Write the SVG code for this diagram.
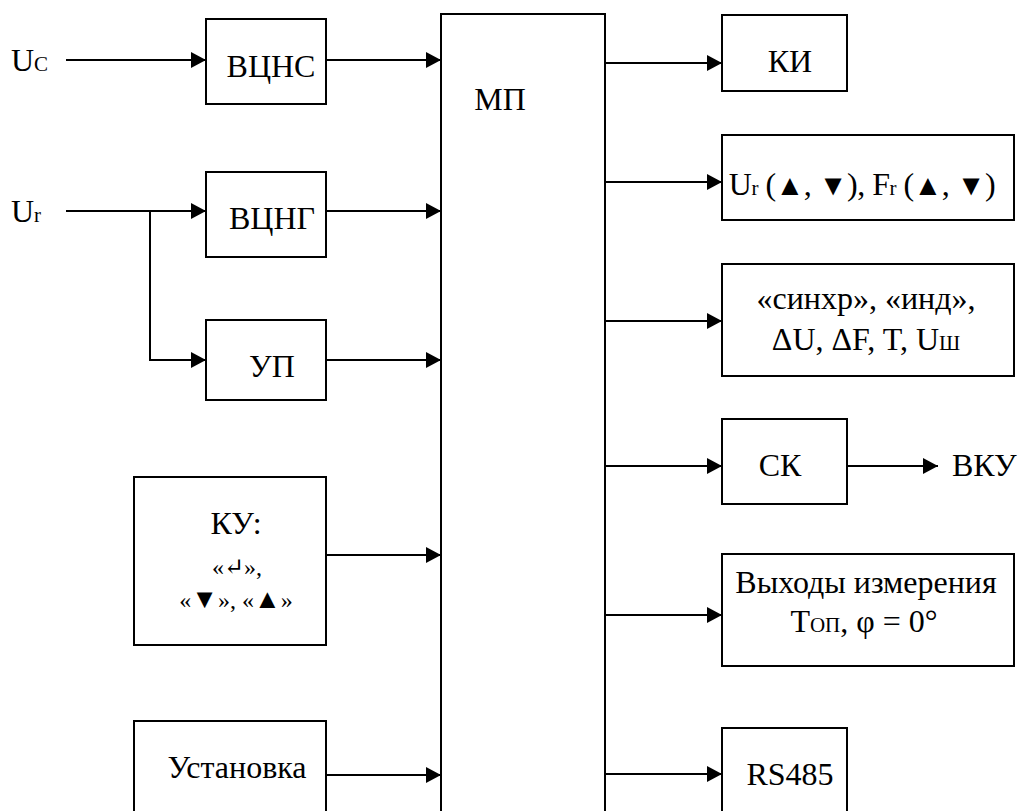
<svg xmlns="http://www.w3.org/2000/svg" width="1022" height="811" viewBox="0 0 1022 811">
<defs>
<marker id="arr" markerUnits="userSpaceOnUse" markerWidth="16" markerHeight="16" refX="15" refY="8" orient="auto">
<path d="M0,0 L15,8 L0,16 z" fill="#000"/>
</marker>
<style>
.box{fill:#fff;stroke:#000;stroke-width:2}
.ln{fill:none;stroke:#000;stroke-width:2}
.ar{marker-end:url(#arr)}
text{font-family:'Liberation Serif','Times New Roman','DejaVu Serif',serif;font-size:32px;fill:#000}
.sub{font-size:21px}
.sm{font-size:24px}
.tri{font-size:27px}
.t2{font-size:29px}
</style>
</defs>
<rect width="1022" height="811" fill="#fff"/>
<g id="connectors">
<path class="ln ar" d="M66,60 H206"/>
<path class="ln ar" d="M326,60 H441"/>
<path class="ln ar" d="M66,211 H206"/>
<path class="ln ar" d="M150,211 V360 H206"/>
<path class="ln ar" d="M326,211 H441"/>
<path class="ln ar" d="M326,360 H441"/>
<path class="ln ar" d="M326,555 H441"/>
<path class="ln ar" d="M326,775 H441"/>
<path class="ln ar" d="M605,63 H722"/>
<path class="ln ar" d="M605,182 H722"/>
<path class="ln ar" d="M605,321 H722"/>
<path class="ln ar" d="M605,466 H722"/>
<path class="ln ar" d="M847,466 H938"/>
<path class="ln ar" d="M605,615 H722"/>
<path class="ln ar" d="M605,774 H722"/>
</g>
<g id="uc"><text x="11" y="71">U<tspan class="sub">C</tspan></text></g>
<g id="ur"><text x="11" y="222">U<tspan class="sub">r</tspan></text></g>
<g id="vcns"><rect class="box" x="206" y="19" width="120" height="85"/><text x="271" y="77" text-anchor="middle">ВЦНС</text></g>
<g id="vcng"><rect class="box" x="206" y="172" width="120" height="85"/><text x="272" y="229" text-anchor="middle">ВЦНГ</text></g>
<g id="up"><rect class="box" x="206" y="320" width="120" height="80"/><text x="272" y="377" text-anchor="middle">УП</text></g>
<g id="ku"><rect class="box" x="134" y="477" width="192" height="168"/>
<text x="236" y="534" text-anchor="middle">КУ:</text>
<text x="237" y="575" text-anchor="middle" class="sm">«↵»,</text>
<text x="236" y="608" text-anchor="middle" class="sm">«<tspan class="tri">▼</tspan>», «<tspan class="tri">▲</tspan>»</text></g>
<g id="ustanovka"><rect class="box" x="134" y="721" width="192" height="100"/><text x="237" y="778" text-anchor="middle">Установка</text></g>
<g id="mp"><rect class="box" x="441" y="14" width="164" height="810"/><text x="500" y="110" text-anchor="middle">МП</text></g>
<g id="ki"><rect class="box" x="722" y="15" width="125" height="76"/><text x="790" y="72" text-anchor="middle">КИ</text></g>
<g id="urfr"><rect class="box" x="722" y="135" width="292" height="85"/><text x="862" y="195" text-anchor="middle" letter-spacing="-0.5">U<tspan class="sub">r</tspan> (<tspan class="t2">▲</tspan>, <tspan class="t2">▼</tspan>), F<tspan class="sub">r</tspan> (<tspan class="t2">▲</tspan>, <tspan class="t2">▼</tspan>)</text></g>
<g id="sinhr"><rect class="box" x="722" y="264" width="292" height="112"/>
<text x="866" y="309" text-anchor="middle">«синхр», «инд»,</text>
<text x="866" y="350" text-anchor="middle">ΔU, ΔF, T, U<tspan class="sub">Ш</tspan></text></g>
<g id="sk"><rect class="box" x="722" y="419" width="125" height="85"/><text x="780" y="476" text-anchor="middle">СК</text></g>
<g id="vku"><text x="952" y="476">ВКУ</text></g>
<g id="vyhody"><rect class="box" x="722" y="554" width="292" height="112"/>
<text x="866" y="593" text-anchor="middle">Выходы измерения</text>
<text x="864" y="632" text-anchor="middle">T<tspan class="sub">ОП</tspan>, φ = 0°</text></g>
<g id="rs485"><rect class="box" x="722" y="728" width="125" height="100"/><text x="790" y="785" text-anchor="middle">RS485</text></g>
</svg>
